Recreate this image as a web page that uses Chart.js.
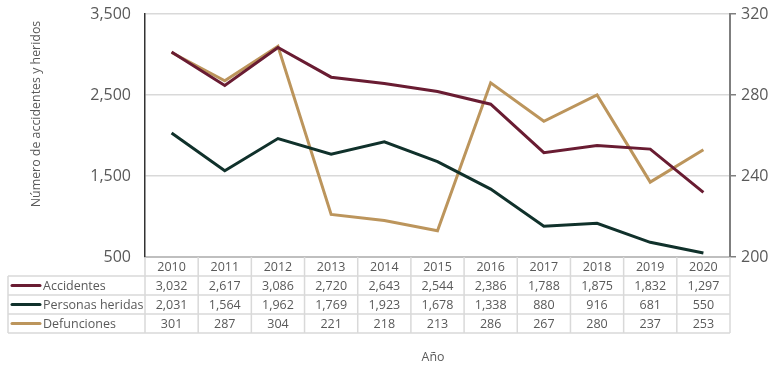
<!DOCTYPE html>
<html>
<head>
<meta charset="utf-8">
<script src="https://cdn.jsdelivr.net/npm/chart.js@4.4.0/dist/chart.umd.min.js"></script>
<style>
  html, body { margin: 0; padding: 0; background: #fff; }
  #wrap { width: 771px; height: 366px; }
</style>
</head>
<body>
<div id="wrap"><canvas id="chart" width="771" height="366"></canvas></div>
<script>
const years = ['2010', '2011', '2012', '2013', '2014', '2015', '2016', '2017', '2018', '2019', '2020'];
const accidentes = [3032, 2617, 3086, 2720, 2643, 2544, 2386, 1788, 1875, 1832, 1297];
const heridas = [2031, 1564, 1962, 1769, 1923, 1678, 1338, 880, 916, 681, 550];
const defunciones = [301, 287, 304, 221, 218, 213, 286, 267, 280, 237, 253];
const leftTicks = [500, 1500, 2500, 3500];
const rightTicks = [200, 240, 280, 320];

const FONT = 'Open Sans';
const textColor = '#595959';
const gridColor = '#d9d9d9';

const series = [
  { label: 'Accidentes', data: accidentes, color: '#691c32', axis: 'y' },
  { label: 'Personas heridas', data: heridas, color: '#10312b', axis: 'y' },
  { label: 'Defunciones', data: defunciones, color: '#bc955c', axis: 'y1' }
];

const fmt = v => v.toLocaleString('en-US');

// data table under the plot, columns follow the x scale
const tablePlugin = {
  id: 'dataTable',
  afterDraw(chart) {
    const ctx = chart.ctx;
    const ca = chart.chartArea;
    const n = years.length;
    const w = (ca.right - ca.left) / n;
    const top = ca.bottom;
    const headH = 19, rowH = 19;
    const tableLeft = 8;
    const bottom = top + headH + rowH * series.length;

    ctx.save();
    ctx.strokeStyle = gridColor;
    ctx.lineWidth = 1.5;
    ctx.beginPath();
    for (let r = 0; r <= series.length; r++) {
      const y = top + headH + r * rowH;
      ctx.moveTo(tableLeft, y);
      ctx.lineTo(ca.right, y);
    }
    for (let i = 0; i <= n; i++) {
      const x = ca.left + i * w;
      ctx.moveTo(x, top);
      ctx.lineTo(x, bottom);
    }
    ctx.moveTo(tableLeft, top + headH);
    ctx.lineTo(tableLeft, bottom);
    ctx.stroke();

    ctx.fillStyle = textColor;
    ctx.font = '12.5px "' + FONT + '"';
    ctx.textAlign = 'center';
    ctx.textBaseline = 'middle';
    years.forEach((yr, i) => {
      const cx = chart.scales.x.getPixelForValue(i);
      ctx.fillText(yr, cx, top + headH / 2 + 1);
      series.forEach((s, r) => {
        ctx.fillText(fmt(s.data[i]), cx, top + headH + r * rowH + rowH / 2 + 1);
      });
    });

    series.forEach((s, r) => {
      const cy = top + headH + r * rowH + rowH / 2;
      ctx.strokeStyle = s.color;
      ctx.lineWidth = 3;
      ctx.lineCap = 'round';
      ctx.beginPath();
      ctx.moveTo(12, cy);
      ctx.lineTo(40, cy);
      ctx.stroke();
      ctx.fillStyle = textColor;
      ctx.textAlign = 'left';
      ctx.fillText(s.label, 43, cy + 1);
    });

    // axis titles
    ctx.font = '12.4px "' + FONT + '"';
    ctx.textAlign = 'center';
    ctx.fillText('Año', 433, 357);
    ctx.translate(36, 114);
    ctx.rotate(-Math.PI / 2);
    ctx.fillText('Número de accidentes y heridos', 0, 0);
    ctx.restore();
  }
};

// fixed axis widths, no extra padding from tick labels
const fixWidth = w => s => {
  s.width = w;
  s.paddingTop = 0;
  s.paddingBottom = 0;
};

new Chart(document.getElementById('chart'), {
  type: 'line',
  data: {
    labels: years,
    datasets: series.map(s => ({
      label: s.label,
      data: s.data,
      yAxisID: s.axis,
      borderColor: s.color,
      backgroundColor: s.color,
      borderWidth: 3,
      pointRadius: 0,
      tension: 0,
      fill: false
    }))
  },
  options: {
    responsive: false,
    devicePixelRatio: 1,
    animation: false,
    layout: { padding: { top: 14, left: 0, right: 0, bottom: 0 } },
    plugins: {
      legend: { display: false },
      tooltip: { enabled: false }
    },
    scales: {
      x: {
        type: 'category',
        offset: true,
        grid: { display: false },
        border: { color: '#bfbfbf', width: 2 },
        ticks: { display: false },
        afterFit: s => { s.height = 109; s.paddingLeft = 0; s.paddingRight = 0; }
      },
      y: {
        position: 'left',
        min: 500,
        max: 3500,
        afterBuildTicks: s => { s.ticks = leftTicks.map(v => ({ value: v })); },
        ticks: {
          callback: v => fmt(v),
          color: textColor,
          font: { family: FONT, size: 16 },
          padding: 14
        },
        grid: { color: gridColor, lineWidth: 1.5, drawTicks: false },
        border: { color: '#333333', width: 1.5 },
        afterFit: fixWidth(145)
      },
      y1: {
        position: 'right',
        min: 200,
        max: 320,
        afterBuildTicks: s => { s.ticks = rightTicks.map(v => ({ value: v })); },
        ticks: {
          color: textColor,
          font: { family: FONT, size: 16 },
          padding: 5
        },
        grid: { drawOnChartArea: false, color: '#7f7f7f', tickLength: 6, lineWidth: 1.5 },
        border: { color: '#7f7f7f', width: 2 },
        afterFit: fixWidth(41)
      }
    }
  },
  plugins: [tablePlugin]
});
</script>
</body>
</html>
